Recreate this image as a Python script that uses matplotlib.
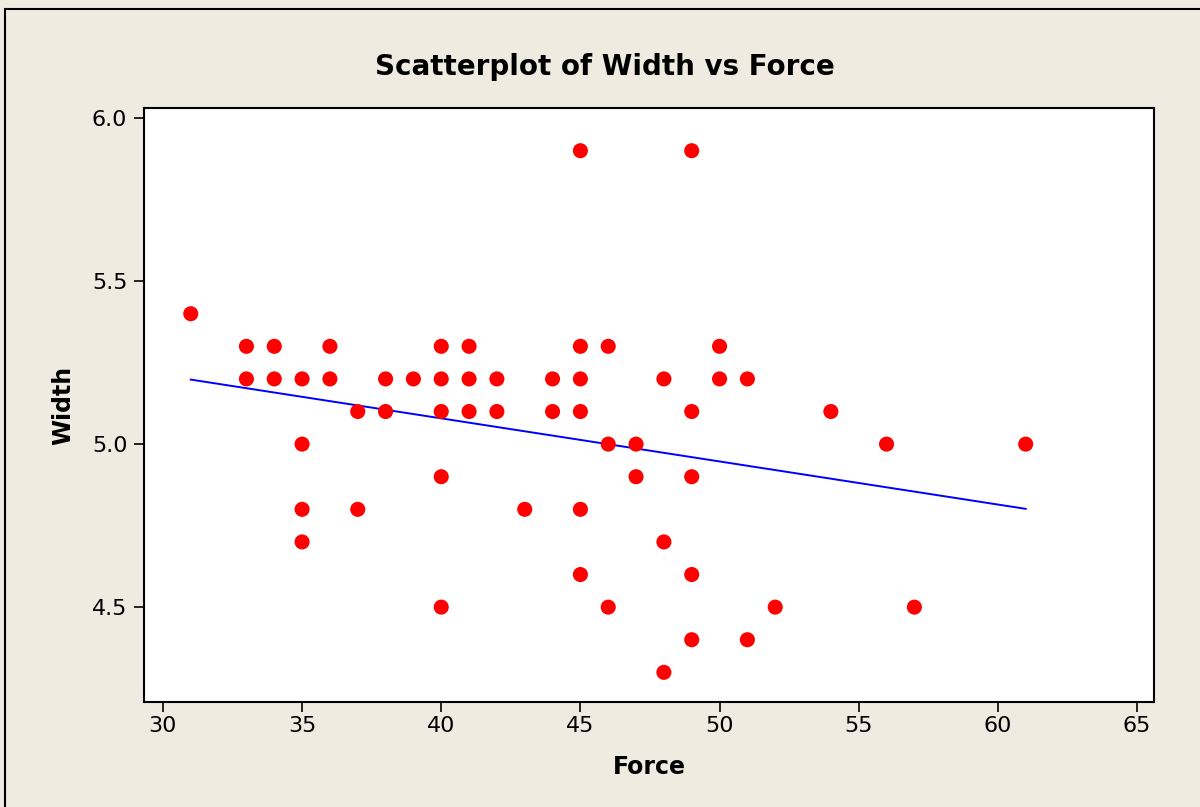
import numpy as np
import matplotlib
matplotlib.use("Agg")
import matplotlib.pyplot as plt
from matplotlib.patches import Rectangle

# Force / Width observations, grouped by force value
force = [31,
         33, 33,
         34, 34,
         35, 35, 35, 35,
         36, 36,
         37, 37,
         38, 38,
         39,
         40, 40, 40, 40, 40,
         41, 41, 41,
         42, 42,
         43,
         44, 44,
         45, 45, 45, 45, 45, 45,
         46, 46, 46,
         47, 47,
         48, 48, 48,
         49, 49, 49, 49, 49,
         50, 50,
         51, 51,
         52,
         54,
         56,
         57,
         61]
width = [5.4,
         5.3, 5.2,
         5.3, 5.2,
         5.2, 5.0, 4.8, 4.7,
         5.3, 5.2,
         5.1, 4.8,
         5.2, 5.1,
         5.2,
         5.3, 5.2, 5.1, 4.9, 4.5,
         5.3, 5.2, 5.1,
         5.2, 5.1,
         4.8,
         5.2, 5.1,
         5.9, 5.3, 5.2, 5.1, 4.8, 4.6,
         5.3, 5.0, 4.5,
         5.0, 4.9,
         5.2, 4.7, 4.3,
         5.9, 5.1, 4.9, 4.6, 4.4,
         5.3, 5.2,
         5.2, 4.4,
         4.5,
         5.1,
         5.0,
         4.5,
         5.0]

x_ticks = [30, 35, 40, 45, 50, 55, 60, 65]
y_ticks = [4.5, 5.0, 5.5, 6.0]

plt.rcParams['font.family'] = ['DejaVu Sans']

BG = '#EFEBE1'
fig = plt.figure(figsize=(12, 8.07), dpi=100, facecolor=BG)

# outer frame of the graph window
fig.patches.append(Rectangle((5 / 1200, -0.2), 1.5, 1.2 - 9 / 807,
                             transform=fig.transFigure, fill=False,
                             edgecolor='black', linewidth=1.5, zorder=0))

ax = fig.add_axes([144 / 1200, 1 - 702 / 807, (1154 - 144) / 1200, (702 - 108) / 807])
ax.set_facecolor('white')

x = np.array(force, dtype=float)
y = np.array(width, dtype=float)

ax.scatter(x, y, s=118, color='#FF0000', edgecolors='none', zorder=3)

# least-squares fit line over the observed force range
slope, intercept = np.polyfit(x, y, 1)
xs = np.array([x.min(), x.max()])
ax.plot(xs, intercept + slope * xs, color='#0000FF', linewidth=1.4, zorder=2)

ax.set_xlim(29.32, 65.61)
ax.set_ylim(4.209, 6.031)
ax.set_xticks(x_ticks)
ax.set_yticks(y_ticks)
ax.set_xticklabels([str(v) for v in x_ticks])
ax.set_yticklabels([f"{v:.1f}" for v in y_ticks])

for sp in ax.spines.values():
    sp.set_linewidth(1.5)
    sp.set_color('black')

ax.tick_params(axis='both', direction='out', length=7, width=1.2,
               labelsize=16, colors='black')
ax.tick_params(axis='x', pad=3)
ax.tick_params(axis='y', pad=5)

# title is centred on the graph window rather than on the data region
fig.text(605 / 1200, 1 - 67 / 807, 'Scatterplot of Width vs Force',
         fontsize=20, fontweight='bold', ha='center', va='center')
ax.set_xlabel('Force', fontsize=17, fontweight='bold', labelpad=14)
ax.set_ylabel('Width', fontsize=17, fontweight='bold', labelpad=12)

fig.savefig('out.png', dpi=100, facecolor=BG)
